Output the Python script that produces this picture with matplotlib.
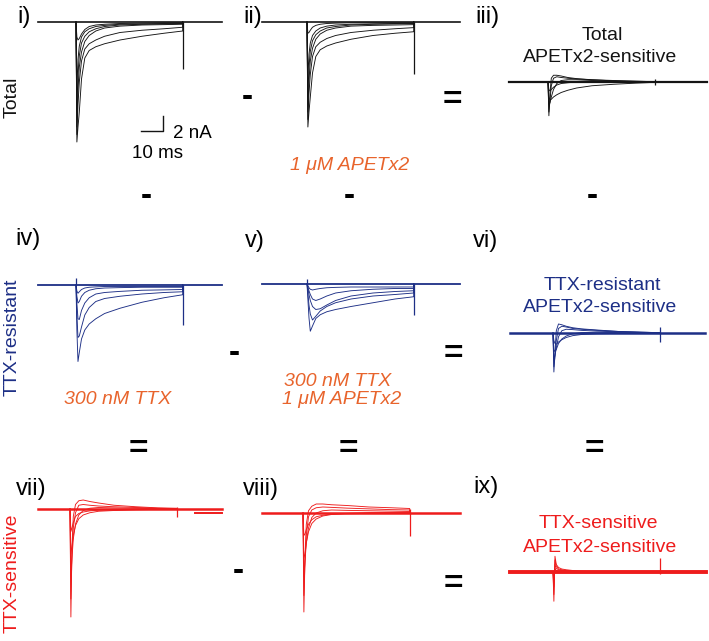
import matplotlib.pyplot as plt

plt.rcParams['font.family'] = ['Liberation Sans', 'DejaVu Sans']

# Tempos (ms) amostrados durante o degrau de voltagem (inicio do degrau = 0)
t_step = [0, 0.4, 0.9, 1.5, 2.5, 4, 6, 9, 13, 20, 30, 40, 48.5]
t_off = 48.5

# Correntes (nA) de cada familia de tracos
i_total = [
    [0, -16.0, -14.0, -12.0, -7.6, -4.8, -3.8, -3.3, -2.9, -2.4, -1.9, -1.5, -1.2],
    [0, -15.0, -11.0, -8.0, -5.2, -3.6, -2.9, -2.4, -1.9, -1.4, -1.1, -0.9, -0.7],
    [0, -14.0, -9.0, -6.0, -4.0, -2.6, -1.8, -1.2, -0.8, -0.55, -0.4, -0.35, -0.3],
    [0, -12.0, -7.0, -4.5, -2.8, -1.9, -1.3, -0.9, -0.6, -0.4, -0.3, -0.25, -0.2],
    [0, -9.0, -5.0, -3.2, -2.0, -1.3, -0.9, -0.6, -0.45, -0.3, -0.25, -0.2, -0.15],
    [0, -2.0, -2.4, -2.2, -1.6, -1.0, -0.6, -0.4, -0.3, -0.2, -0.15, -0.1, -0.1],
]
ii_apetx2 = [
    [0, -14.0, -12.0, -10.0, -6.8, -4.6, -3.7, -3.2, -2.8, -2.3, -1.8, -1.5, -1.3],
    [0, -13.0, -9.5, -7.0, -4.6, -3.3, -2.7, -2.2, -1.8, -1.4, -1.1, -0.9, -0.75],
    [0, -12.0, -7.8, -5.2, -3.5, -2.3, -1.6, -1.1, -0.8, -0.55, -0.45, -0.4, -0.35],
    [0, -10.0, -6.0, -3.9, -2.5, -1.7, -1.2, -0.8, -0.6, -0.4, -0.3, -0.25, -0.2],
    [0, -7.5, -4.3, -2.8, -1.8, -1.2, -0.8, -0.55, -0.4, -0.3, -0.25, -0.2, -0.15],
    [0, -1.5, -1.4, -1.1, -0.7, -0.45, -0.3, -0.2, -0.15, -0.1, -0.1, -0.1, -0.1],
]
iii_total_sens = [
    [0, -4.5, -1.5, 0.5, 0.9, 0.9, 0.8, 0.6, 0.45, 0.3, 0.15, 0.1, 0.05],
    [0, -4.0, -2.5, -0.5, 0.5, 0.7, 0.6, 0.5, 0.4, 0.3, 0.2, 0.1, 0.05],
    [0, -3.0, -2.8, -2.0, -1.0, -0.2, 0.2, 0.3, 0.3, 0.2, 0.1, 0.05, 0],
    [0, -2.0, -2.4, -2.3, -2.0, -1.7, -1.4, -1.1, -0.8, -0.5, -0.3, -0.15, -0.05],
    [0, -1.0, -1.2, -1.0, -0.7, -0.4, -0.2, -0.1, 0, 0, 0, 0, 0],
]
iv_ttx = [
    [0, -6.0, -10.2, -9.0, -7.2, -6.0, -5.2, -4.5, -3.8, -3.1, -2.3, -1.7, -1.3],
    [0, -4.0, -7.0, -6.8, -5.6, -4.0, -3.0, -2.2, -1.8, -1.5, -1.2, -1.0, -0.9],
    [0, -2.5, -4.5, -4.6, -3.4, -2.4, -1.7, -1.2, -1.0, -0.85, -0.7, -0.65, -0.6],
    [0, -1.5, -2.4, -2.2, -1.5, -1.0, -0.7, -0.5, -0.4, -0.35, -0.3, -0.3, -0.3],
    [0, -0.8, -1.1, -0.9, -0.6, -0.4, -0.3, -0.25, -0.2, -0.2, -0.2, -0.2, -0.2],
]
v_ttx_apetx2 = [
    [0, -2.0, -4.5, -6.3, -5.6, -4.6, -4.1, -3.7, -3.4, -3.0, -2.5, -2.0, -1.7],
    [0, -1.2, -2.8, -4.0, -4.8, -4.3, -3.6, -3.0, -2.5, -2.0, -1.6, -1.4, -1.2],
    [0, -0.6, -1.4, -2.2, -3.0, -3.4, -3.3, -2.8, -2.2, -1.6, -1.2, -1.0, -0.9],
    [0, -0.4, -0.9, -1.4, -2.0, -2.2, -2.0, -1.6, -1.2, -0.9, -0.7, -0.6, -0.6],
    [0, -0.2, -0.5, -0.7, -0.8, -0.7, -0.6, -0.5, -0.45, -0.4, -0.4, -0.4, -0.4],
]
vi_res_sens = [
    [0, -5.2, -2.5, 0.3, 1.2, 1.1, 0.9, 0.7, 0.55, 0.4, 0.2, 0.1, 0.05],
    [0, -4.5, -3.2, -1.0, 0.6, 0.9, 0.8, 0.6, 0.5, 0.35, 0.2, 0.1, 0.05],
    [0, -3.5, -3.0, -2.0, -0.5, 0.3, 0.5, 0.45, 0.35, 0.25, 0.15, 0.1, 0.05],
    [0, -2.2, -2.5, -2.2, -1.4, -0.8, -0.4, -0.1, 0.05, 0.1, 0.05, 0, 0],
    [0, -1.0, -1.4, -1.5, -1.2, -0.9, -0.6, -0.35, -0.2, -0.1, -0.05, 0, 0],
]
vii_ttx_sens = [
    [0, -14.4, -5.0, -1.0, 0.6, 1.1, 1.2, 1.0, 0.8, 0.5, 0.3, 0.15, 0.1],
    [0, -12.0, -6.0, -2.5, -0.5, 0.5, 0.6, 0.5, 0.4, 0.3, 0.2, 0.1, 0.05],
    [0, -9.0, -6.5, -4.0, -2.0, -0.8, -0.2, 0.1, 0.2, 0.15, 0.1, 0.05, 0],
    [0, -6.0, -5.0, -3.5, -2.2, -1.3, -0.8, -0.5, -0.3, -0.2, -0.1, -0.05, 0],
    [0, -3.0, -2.5, -1.8, -1.0, -0.6, -0.4, -0.25, -0.15, -0.1, -0.05, 0, 0],
]
viii_ttx_apetx2_sens = [
    [0, -13.2, -6.0, -1.5, 0.3, 0.9, 1.2, 1.2, 1.1, 1.0, 0.8, 0.7, 0.6],
    [0, -11.0, -6.5, -3.0, -0.5, 0.4, 0.7, 0.8, 0.75, 0.65, 0.55, 0.45, 0.4],
    [0, -8.5, -6.5, -4.0, -2.0, -0.6, 0.0, 0.3, 0.4, 0.35, 0.3, 0.25, 0.2],
    [0, -6.0, -5.5, -4.0, -2.5, -1.4, -0.8, -0.4, -0.2, -0.05, 0.05, 0.05, 0.05],
    [0, -3.0, -2.8, -2.2, -1.5, -0.9, -0.5, -0.3, -0.15, -0.1, -0.05, 0, 0],
]
ix_sens_sens = [
    [0, -3.9, 2.1, 1.0, 0.6, 0.4, 0.3, 0.2, 0.1, 0.05, 0, 0, 0],
    [0, -3.0, 1.6, 0.8, 0.4, 0.3, 0.2, 0.1, 0.05, 0, 0, 0, 0],
    [0, -2.0, 1.0, 0.5, 0.3, 0.2, 0.1, 0.05, 0, 0, 0, 0, 0],
    [0, -1.0, 0.5, 0.2, 0.1, 0.05, 0, 0, 0, 0, 0, 0, 0],
]

panels = [i_total, ii_apetx2, iii_total_sens,
          iv_ttx, v_ttx_apetx2, vi_res_sens,
          vii_ttx_sens, viii_ttx_apetx2_sens, ix_sens_sens]
panel_labels = ['i)', 'ii)', 'iii)', 'iv)', 'v)', 'vi)', 'vii)', 'viii)', 'ix)']

# inicio e fim do registro (ms) de cada painel
rec_start = [-17.3, -20.5, -17.7, -17.3, -20.5, -19.5, -14.5, -18.6, -19.5]
rec_end = [66.4, 69.5, 72.3, 66.4, 69.5, 69.0, 69.0, 71.4, 69.5]
# artefatos capacitivos no fim do degrau (nA) e no inicio
art_up = [0, 0, 0.4, 0, 0, 0.8, 0.3, 0.5, 1.9]
art_down = [-6.3, -6.9, -0.4, -5.3, -4.1, -1.2, -1.1, -3.1, -0.3]
onset_tick = [0, 0, 0, 0.9, 0.7, 0, 0, 0, 0]
# pedaco de linha de base deslocada no painel vii (ms, nA)
vii_tail_t = [57, 69]
vii_tail_i = [-0.5, -0.5]

# ---- layout (pixels) ----
W, H = 709, 641
PX_MS = 2.2   # pixels por ms
PX_NA = 7.5   # pixels por nA
XLIM = (-22, 74)
YLIM = (-17, 4)

onset_x = [76, 307, 548, 76, 307, 553, 70, 303, 553]
base_y = [22, 22, 82, 285, 284, 333, 509, 513, 572]
label_pos = [(17, 17), (243, 17), (475, 17), (15, 239), (245, 241), (473, 241),
             (16, 489), (243, 489), (473, 487)]

BLACK = '#141414'
BLUE = '#1d2f86'
RED = '#ee1c1c'
ORANGE = '#e8642c'
colors = [BLACK] * 3 + [BLUE] * 3 + [RED] * 3
base_lw = [1.2, 1.2, 1.6, 1.3, 1.3, 1.8, 1.8, 1.8, 2.8]

fig = plt.figure(figsize=(7.09, 6.41), dpi=100)


def ftext(x, y, s, **kw):
    fig.text(x / W, 1 - y / H, s, **kw)


axes = []
for k, traces in enumerate(panels):
    left = onset_x[k] + XLIM[0] * PX_MS
    top = base_y[k] - YLIM[1] * PX_NA
    w = (XLIM[1] - XLIM[0]) * PX_MS
    h = (YLIM[1] - YLIM[0]) * PX_NA
    ax = fig.add_axes([left / W, 1 - (top + h) / H, w / W, h / H])
    ax.set_xlim(XLIM)
    ax.set_ylim(YLIM)
    ax.axis('off')
    c = colors[k]
    # linha de base (ruidosa no original)
    ax.plot([rec_start[k], rec_end[k]], [0, 0], color=c, lw=base_lw[k], clip_on=False)
    for tr in traces:
        ax.plot(t_step + [t_off], tr + [0], color=c, lw=0.65, clip_on=False)
    ax.vlines(t_off, art_down[k], art_up[k], color=c, lw=0.9)
    if onset_tick[k]:
        ax.vlines(0, 0, onset_tick[k], color=c, lw=0.9)
    ftext(label_pos[k][0], label_pos[k][1], panel_labels[k], fontsize=17,
          ha='left', va='center')
    axes.append(ax)

axes[6].plot(vii_tail_t, vii_tail_i, color=RED, lw=1.4, clip_on=False)

# barra de escala: 10 ms, 2 nA
axes[0].plot([29.5, 39.5, 39.5], [-14.5, -14.5, -12.5], color=BLACK, lw=1.0)
ftext(173, 133, '2 nA', fontsize=13.5, ha='left', va='center')
ftext(158, 154, '10 ms', fontsize=13.5, ha='center', va='center')

# rotulos das linhas
ftext(12, 97, 'Total', fontsize=14, rotation=90, ha='center', va='center', color=BLACK)
ftext(12, 337, 'TTX-resistant', fontsize=14, rotation=90, ha='center', va='center', color=BLUE)
ftext(12, 573, 'TTX-sensitive', fontsize=14, rotation=90, ha='center', va='center', color=RED)

# titulos das diferencas
ftext(602, 35, 'Total', fontsize=14, ha='center', va='center', color=BLACK)
ftext(600, 57, 'APETx2-sensitive', fontsize=14, ha='center', va='center', color=BLACK)
ftext(602, 285, 'TTX-resistant', fontsize=14, ha='center', va='center', color=BLUE)
ftext(600, 308, 'APETx2-sensitive', fontsize=14, ha='center', va='center', color=BLUE)
ftext(598, 524, 'TTX-sensitive', fontsize=14, ha='center', va='center', color=RED)
ftext(600, 547, 'APETx2-sensitive', fontsize=14, ha='center', va='center', color=RED)

# drogas aplicadas
ftext(350, 166, '1 \u03bcM APETx2', fontsize=14, style='italic', ha='center', va='center', color=ORANGE)
ftext(118, 399, '300 nM TTX', fontsize=14, style='italic', ha='center', va='center', color=ORANGE)
ftext(338, 382, '300 nM TTX', fontsize=14, style='italic', ha='center', va='center', color=ORANGE)
ftext(342, 399, '1 \u03bcM APETx2', fontsize=14, style='italic', ha='center', va='center', color=ORANGE)

# operadores
minus_pos = [(247, 98), (146, 197), (349, 197), (592, 197), (234, 354), (238, 572)]
equal_pos = [(452, 98), (453, 352), (453, 582), (138, 447), (348, 447), (594, 447)]
for x, y in minus_pos:
    ftext(x, y + 8, '-', fontsize=24, fontweight='bold', ha='center', va='baseline')
for x, y in equal_pos:
    ftext(x, y + 11, '=', fontsize=24, fontweight='bold', ha='center', va='baseline')

fig.savefig('out.png', dpi=100)
